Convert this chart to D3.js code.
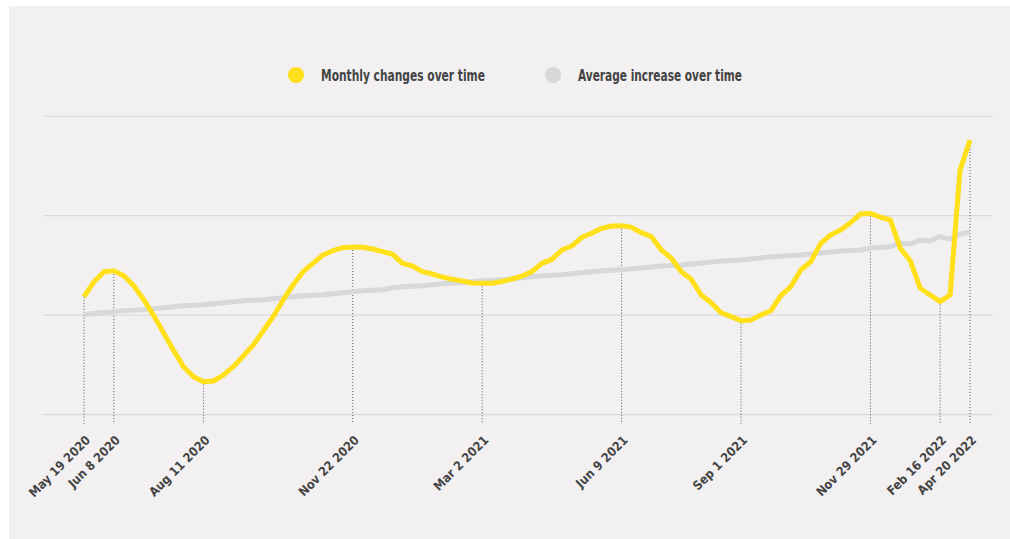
<!DOCTYPE html>
<html>
<head>
<meta charset="utf-8">
<script src="https://cdn.jsdelivr.net/npm/d3@7"></script>
<style>
  body { margin: 0; background: #fff; }
  svg { display: block; }
  .lbl { font-family: "DejaVu Sans Condensed", "Liberation Sans Narrow", sans-serif; font-weight: bold; fill: #444; }
</style>
</head>
<body>
<svg id="chart" width="1010" height="539"></svg>
<script>
// values, one per data point (weekly-ish)
const monthly = [
  1.18, 1.33, 1.43, 1.44, 1.39, 1.29, 1.15, 0.99, 0.815, 0.64,
  0.475, 0.375, 0.325, 0.332, 0.392, 0.476, 0.584, 0.694, 0.835, 0.979,
  1.147, 1.298, 1.432, 1.516, 1.60, 1.643, 1.673, 1.68, 1.677, 1.66,
  1.633, 1.607, 1.516, 1.489, 1.432, 1.408, 1.378, 1.355, 1.338, 1.318,
  1.315, 1.315, 1.333, 1.358, 1.388, 1.432, 1.516, 1.556, 1.65, 1.69,
  1.778, 1.818, 1.868, 1.891, 1.894, 1.878, 1.824, 1.784, 1.65, 1.566,
  1.432, 1.355, 1.197, 1.12, 1.019, 0.979, 0.939, 0.946, 0.996, 1.039,
  1.19, 1.281, 1.449, 1.532, 1.717, 1.801, 1.851, 1.925, 2.012, 2.019,
  1.979, 1.952, 1.667, 1.542, 1.265, 1.197, 1.13, 1.197, 2.455, 2.757
];
const average = [
  1.00, 1.01, 1.02, 1.03, 1.04, 1.045, 1.05, 1.06, 1.07, 1.08,
  1.09, 1.095, 1.10, 1.11, 1.12, 1.13, 1.14, 1.145, 1.15, 1.16,
  1.17, 1.18, 1.19, 1.195, 1.20, 1.21, 1.22, 1.23, 1.24, 1.245,
  1.25, 1.27, 1.28, 1.285, 1.29, 1.30, 1.31, 1.315, 1.32, 1.33,
  1.34, 1.345, 1.35, 1.36, 1.37, 1.38, 1.39, 1.395, 1.40, 1.41,
  1.42, 1.43, 1.44, 1.445, 1.45, 1.46, 1.47, 1.48, 1.49, 1.495,
  1.50, 1.51, 1.52, 1.53, 1.54, 1.545, 1.55, 1.56, 1.57, 1.58,
  1.59, 1.595, 1.60, 1.61, 1.62, 1.63, 1.64, 1.645, 1.65, 1.667,
  1.675, 1.683, 1.717, 1.71, 1.75, 1.74, 1.785, 1.76, 1.81, 1.83
];
// labelled points: index into the series + label
const tickIndex = [0, 3, 12, 27, 40, 54, 66, 79, 86, 89];
const tickLabels = ["May 19 2020", "Jun 8 2020", "Aug 11 2020", "Nov 22 2020", "Mar 2 2021",
  "Jun 9 2021", "Sep 1 2021", "Nov 29 2021", "Feb 16 2022", "Apr 20 2022"];
const gridValues = [0, 1, 2, 3];
const legendNames = ["Monthly changes over time", "Average increase over time"];

const yellow = "#ffe01b";
const grey = "#d6d8d9";

const svg = d3.select("#chart");

// panel background
svg.append("rect")
  .attr("x", 9).attr("y", 6)
  .attr("width", 1001).attr("height", 533)
  .attr("fill", "#f2f0f1");

const x = d3.scalePoint()
  .domain(d3.range(monthly.length))
  .range([84, 970]);

const y = d3.scaleLinear()
  .domain([0, 3])
  .range([414, 115.8]);

// grid lines
const grid = svg.append("g")
  .attr("transform", "translate(993,0)")
  .call(d3.axisLeft(y).tickValues(gridValues).tickSize(950).tickFormat(""));
grid.select(".domain").remove();
grid.selectAll("line").attr("stroke", "#dcdadb").attr("stroke-width", 1.3);

// dotted drop lines under labelled points
svg.append("g")
  .selectAll("line")
  .data(tickIndex)
  .join("line")
  .attr("x1", d => x(d)).attr("x2", d => x(d))
  .attr("y1", d => y(monthly[d]))
  .attr("y2", 424)
  .attr("stroke", "#555")
  .attr("stroke-width", 1)
  .attr("stroke-dasharray", "1,2");

const line = d3.line()
  .x((d, i) => x(i))
  .y(d => y(d));

svg.append("path")
  .datum(average)
  .attr("fill", "none")
  .attr("stroke", grey)
  .attr("stroke-width", 5)
  .attr("d", line);

svg.append("path")
  .datum(monthly)
  .attr("fill", "none")
  .attr("stroke", yellow)
  .attr("stroke-width", 5)
  .attr("stroke-linejoin", "round")
  .attr("d", line);

// x labels
svg.append("g")
  .selectAll("text")
  .data(tickIndex)
  .join("text")
  .attr("class", "lbl")
  .attr("font-size", 12.5)
  .attr("text-anchor", "end")
  .attr("transform", d => `translate(${x(d) + 7},${441}) rotate(-45)`)
  .text((d, i) => tickLabels[i]);

// legend
const legend = svg.append("g")
  .selectAll("g")
  .data(legendNames)
  .join("g")
  .attr("transform", (d, i) => `translate(${296 + i * 257},75)`);
legend.append("circle")
  .attr("r", 8)
  .attr("fill", (d, i) => i === 0 ? yellow : grey);
legend.append("text")
  .attr("class", "lbl")
  .attr("x", 25).attr("y", 5.5)
  .attr("font-size", 15)
  .attr("textLength", 164)
  .attr("lengthAdjust", "spacingAndGlyphs")
  .text(d => d);
</script>
</body>
</html>
